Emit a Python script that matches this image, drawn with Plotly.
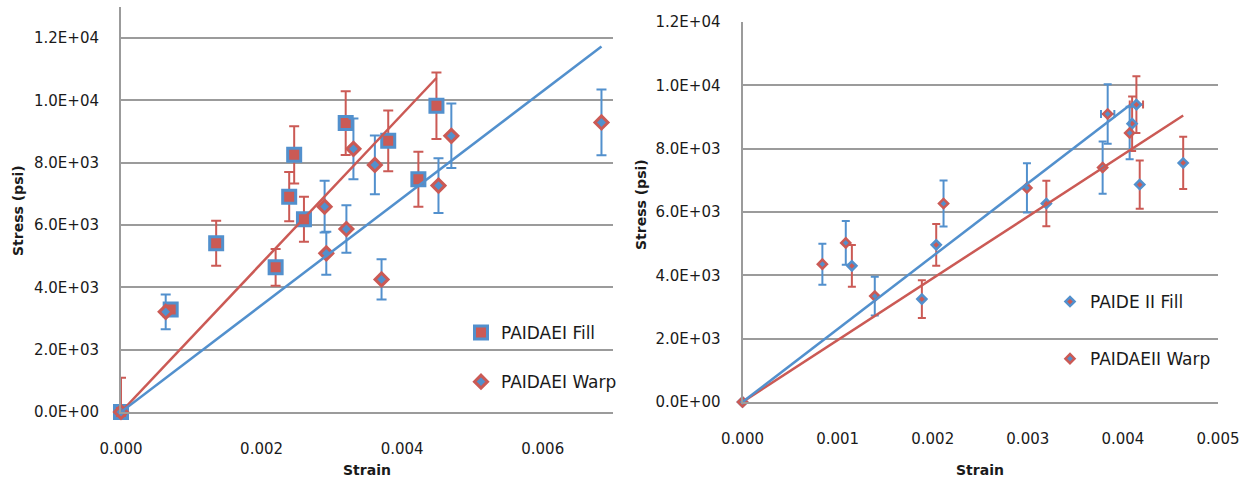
import plotly.graph_objects as go

# ---------------- data: left chart (PAIDAE I) ----------------
fill1_strain = [0, 0.000707, 0.001354, 0.0022, 0.002393, 0.002464, 0.002603, 0.003197, 0.003802, 0.004231, 0.004488]
fill1_stress = [0, 3293, 5415, 4643, 6913, 8254, 6186, 9273, 8704, 7472, 9829]
fill1_err = [1100, 200, 720, 590, 790, 920, 720, 1020, 975, 885, 1070]

warp1_strain = [0, 0.000636, 0.002897, 0.002921, 0.003207, 0.003307, 0.003612, 0.003707, 0.004517, 0.0047, 0.006836]
warp1_stress = [0, 3215, 6592, 5093, 5874, 8447, 7932, 4257, 7267, 8865, 9293]
warp1_err = [0, 560, 830, 690, 760, 975, 945, 645, 880, 1035, 1055]

# ---------------- data: right chart (PAIDE II / PAIDAE II) ----------------
fill2_strain = [0, 0.00115, 0.001886, 0.002037, 0.003195, 0.004097, 0.004142, 0.004177, 0.004634]
fill2_stress = [0, 4300, 3249, 4962, 6268, 8790, 9391, 6867, 7549]
fill2_err = [None, 657, 599, 662, 720, 860, 895, 763, 825]
fill2_xerr = [None, None, None, None, None, None, 0.00007, None, None]

warp2_strain = [0, 0.00084, 0.001086, 0.001391, 0.002114, 0.002991, 0.003787, 0.00384, 0.004071]
warp2_stress = [0, 4353, 5025, 3344, 6268, 6760, 7404, 9095, 8495]
warp2_err = [None, 647, 688, 615, 726, 778, 825, 936, 830]
warp2_xerr = [None, None, None, None, None, None, None, 0.00007, None]

y_ticks = [0, 2000, 4000, 6000, 8000, 10000, 12000]
y_ticktext = ["0.0E+00", "2.0E+03", "4.0E+03", "6.0E+03", "8.0E+03", "1.0E+04", "1.2E+04"]
legend_names = ["PAIDAEI Fill", "PAIDAEI Warp", "PAIDE II Fill", "PAIDAEII Warp"]

BLUE = "#5290CD"
RED = "#CB5A55"
GRID = "#9B9B9B"
FONT = "DejaVu Sans"

W, H = 1252, 483


def px_x(p):
    return p / W


def px_y(p):
    return 1 - p / H


def slope0(xs, ys):
    sxy = sum(x * y for x, y in zip(xs, ys))
    sxx = sum(x * x for x in xs)
    return sxy / sxx


fig = go.Figure()


def minus_err(xs, errs):
    return [0 if x == 0 else e for x, e in zip(xs, errs)]


# Left chart points
fig.add_trace(go.Scatter(
    x=fill1_strain, y=fill1_stress, mode="markers", name=legend_names[0],
    xaxis="x", yaxis="y", legend="legend", legendgroup="a",
    marker=dict(symbol="square", size=13, color=RED, line=dict(color=BLUE, width=3)),
    error_y=dict(type="data", symmetric=False, array=fill1_err,
                 arrayminus=minus_err(fill1_strain, fill1_err),
                 color=RED, thickness=2, width=5),
    cliponaxis=False,
))
fig.add_trace(go.Scatter(
    x=warp1_strain, y=warp1_stress, mode="markers", name=legend_names[1],
    xaxis="x", yaxis="y", legend="legend", legendgroup="b",
    marker=dict(symbol="diamond", size=10, color=BLUE, line=dict(color=RED, width=3)),
    error_y=dict(type="data", symmetric=False, array=warp1_err,
                 arrayminus=minus_err(warp1_strain, warp1_err),
                 color=BLUE, thickness=2, width=5),
    cliponaxis=False,
))

# Left trendlines (linear, intercept 0)
for xs, ys, col in [(fill1_strain, fill1_stress, RED), (warp1_strain, warp1_stress, BLUE)]:
    k = slope0(xs, ys)
    xe = max(xs)
    fig.add_trace(go.Scatter(x=[0, xe], y=[0, k * xe], mode="lines", showlegend=False,
                             xaxis="x", yaxis="y", line=dict(color=col, width=2.5),
                             hoverinfo="skip", cliponaxis=False))

# Right chart points
fig.add_trace(go.Scatter(
    x=fill2_strain, y=fill2_stress, mode="markers", name=legend_names[2],
    xaxis="x2", yaxis="y2", legend="legend2", legendgroup="c",
    marker=dict(symbol="diamond", size=7, color=RED, line=dict(color=BLUE, width=2.5)),
    error_y=dict(type="data", array=fill2_err, color=RED, thickness=2, width=4),
    error_x=dict(type="data", array=fill2_xerr, color=RED, thickness=2, width=4),
    cliponaxis=False,
))
fig.add_trace(go.Scatter(
    x=warp2_strain, y=warp2_stress, mode="markers", name=legend_names[3],
    xaxis="x2", yaxis="y2", legend="legend2", legendgroup="d",
    marker=dict(symbol="diamond", size=7, color=BLUE, line=dict(color=RED, width=2.5)),
    error_y=dict(type="data", array=warp2_err, color=BLUE, thickness=2, width=4),
    error_x=dict(type="data", array=warp2_xerr, color=BLUE, thickness=2, width=4),
    cliponaxis=False,
))

for xs, ys, col in [(fill2_strain, fill2_stress, RED), (warp2_strain, warp2_stress, BLUE)]:
    k = slope0(xs, ys)
    xe = max(xs)
    fig.add_trace(go.Scatter(x=[0, xe], y=[0, k * xe], mode="lines", showlegend=False,
                             xaxis="x2", yaxis="y2", line=dict(color=col, width=2.5),
                             hoverinfo="skip", cliponaxis=False))

tickfont = dict(family=FONT, size=15, color="#1a1a1a")

xcommon = dict(showgrid=False, zeroline=False, showline=True, linecolor=GRID, linewidth=2,
               ticks="", tickformat=".3f", tickfont=tickfont, ticklabelstandoff=22,
               automargin=False)
ycommon = dict(showgrid=True, gridcolor=GRID, gridwidth=2, zeroline=False, showline=True,
               linecolor=GRID, linewidth=2, ticks="", tickvals=y_ticks, ticktext=y_ticktext,
               tickfont=tickfont, ticklabelstandoff=17, automargin=False)

fig.update_layout(
    width=W, height=H,
    margin=dict(l=0, r=0, t=0, b=0),
    paper_bgcolor="white", plot_bgcolor="white",
    font=dict(family=FONT, color="#1a1a1a"),
    xaxis=dict(domain=[px_x(121), px_x(613)], range=[0, 0.007], dtick=0.002, tick0=0,
               anchor="y", **xcommon),
    yaxis=dict(domain=[px_y(412), px_y(7)], range=[0, 13000], anchor="x", **ycommon),
    xaxis2=dict(domain=[px_x(742.5), px_x(1218)], range=[0, 0.005], dtick=0.001, tick0=0,
                anchor="y2", **xcommon),
    yaxis2=dict(domain=[px_y(402), px_y(22)], range=[0, 12000], anchor="x2", **ycommon),
    legend=dict(x=px_x(461), y=px_y(315), xanchor="left", yanchor="top",
                font=dict(family=FONT, size=17, color="#1a1a1a"),
                bgcolor="rgba(0,0,0,0)", tracegroupgap=24, itemclick=False),
    legend2=dict(x=px_x(1050), y=px_y(284), xanchor="left", yanchor="top",
                 font=dict(family=FONT, size=17, color="#1a1a1a"),
                 bgcolor="rgba(0,0,0,0)", tracegroupgap=32, itemclick=False),
    showlegend=True,
)

ann_font = dict(family=FONT, size=14, color="#1a1a1a")
fig.add_annotation(text="<b>Strain</b>", x=px_x(367), y=px_y(470), xref="paper", yref="paper",
                   showarrow=False, xanchor="center", yanchor="middle", font=ann_font)
fig.add_annotation(text="<b>Strain</b>", x=px_x(980), y=px_y(470), xref="paper", yref="paper",
                   showarrow=False, xanchor="center", yanchor="middle", font=ann_font)
fig.add_annotation(text="<b>Stress (psi)</b>", x=px_x(18), y=px_y(211), xref="paper", yref="paper",
                   showarrow=False, xanchor="center", yanchor="middle", textangle=-90, font=ann_font)
fig.add_annotation(text="<b>Stress (psi)</b>", x=px_x(641), y=px_y(205), xref="paper", yref="paper",
                   showarrow=False, xanchor="center", yanchor="middle", textangle=-90, font=ann_font)

fig.write_html("out.html", config={"displayModeBar": False},
               post_script="document.body.style.margin='0px';")
